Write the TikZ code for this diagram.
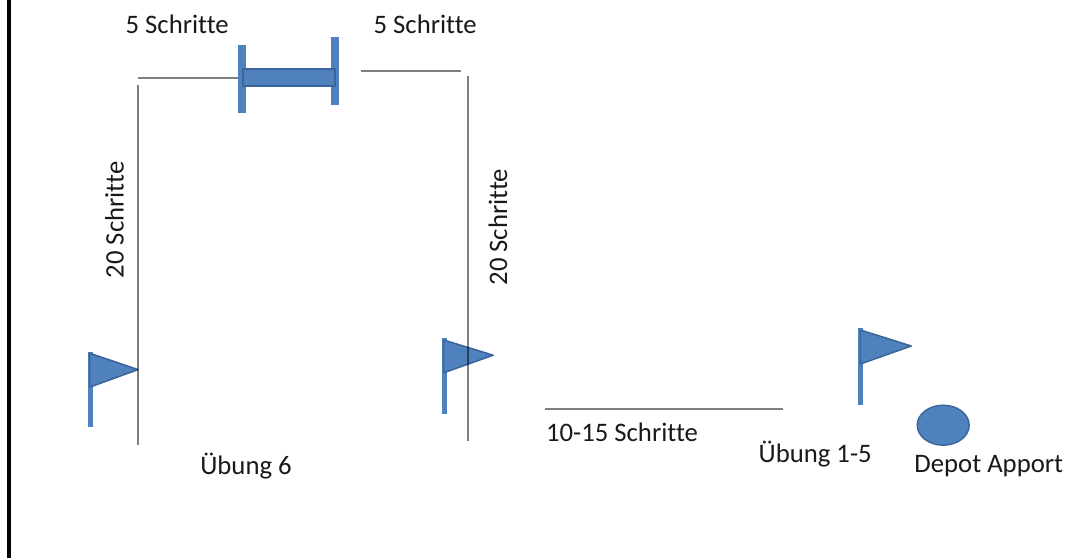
\documentclass[tikz,border=0pt]{standalone}
\usepackage{fontspec}
\setmainfont[Ligatures=CommonOff]{Carlito}
\usetikzlibrary{shapes.geometric}
\definecolor{flagblue}{HTML}{4F81BD}
\definecolor{flagedge}{HTML}{3A659B}

\begin{document}
\begin{tikzpicture}[
    label/.style={anchor=center, font=\fontsize{19}{22}\selectfont, text=black!90},
    track/.style={draw=black, draw opacity=0.5, line width=0.85pt},
    pole/.style={draw=none, fill=flagblue},
    cloth/.style={fill=flagblue, draw=flagedge, line width=1.1pt, line join=round},
    depot/.style={ellipse, minimum width=1.3cm, minimum height=1cm, inner sep=0pt, fill=flagblue, draw=flagedge, line width=1pt}
    ]
\useasboundingbox (0,0) rectangle (26.825,-13.95);

% Frame edge
\coordinate (Frame Top) at (0.225,0);
\coordinate (Frame Bottom) at (0.225,-13.95);
\draw[line width=2.2pt] (Frame Top) -- (Frame Bottom);

% Barrier
\fill[flagblue] (5.95,-1.125) rectangle (6.15,-2.825);
\fill[flagblue] (8.275,-0.925) rectangle (8.475,-2.625);
\draw[cloth, line width=1.6pt] (6.08,-1.725) rectangle (8.37,-2.15);

% Flags
\fill[pole] (2.2,-8.8) rectangle (2.32,-10.675);
\draw[cloth] (2.24,-8.83) -- (3.45,-9.24) -- (2.24,-9.68) -- cycle;

\fill[pole] (11.05,-8.45) rectangle (11.17,-10.35);
\draw[cloth] (11.09,-8.5) -- (12.33,-8.88) -- (11.09,-9.32) -- cycle;

\fill[pole] (21.45,-8.2) rectangle (21.58,-10.12);
\draw[cloth] (21.51,-8.25) -- (22.78,-8.65) -- (21.51,-9.1) -- cycle;

% Depot
\node[depot] (depot) at (23.58,-10.63) {};

% Distance lines
\coordinate (a1) at (3.45,-1.95);
\coordinate (a2) at (5.95,-1.95);
\coordinate (b1) at (9.03,-1.775);
\coordinate (b2) at (11.53,-1.775);
\coordinate (c1) at (3.45,-2.125);
\coordinate (c2) at (3.45,-11.125);
\coordinate (d1) at (11.7,-1.9);
\coordinate (d2) at (11.7,-11.03);
\coordinate (e1) at (13.63,-10.225);
\coordinate (e2) at (19.58,-10.225);

\draw[track] (a1) -- (a2);
\draw[track] (b1) -- (b2);
\draw[track] (c1) -- (c2);
\draw[track] (d1) -- (d2);
\draw[track] (e1) -- (e2);

% Labels
\node[label] (top left) at (4.43,-0.6) {5 Schritte};
\node[label] (top right) at (10.63,-0.6) {5 Schritte};
\node[label, rotate=90] (side left) at (2.86,-5.5) {20 Schritte};
\node[label, rotate=90] (side right) at (12.45,-5.68) {20 Schritte};
\node[label] (bottom mid) at (15.55,-10.82) {10-15 Schritte};
\node[label] (ex six) at (6.15,-11.65) {Übung 6};
\node[label] (ex five) at (20.38,-11.35) {Übung 1-5};
\node[label] (depot text) at (24.72,-11.65) {Depot Apport};

\end{tikzpicture}
\end{document}
